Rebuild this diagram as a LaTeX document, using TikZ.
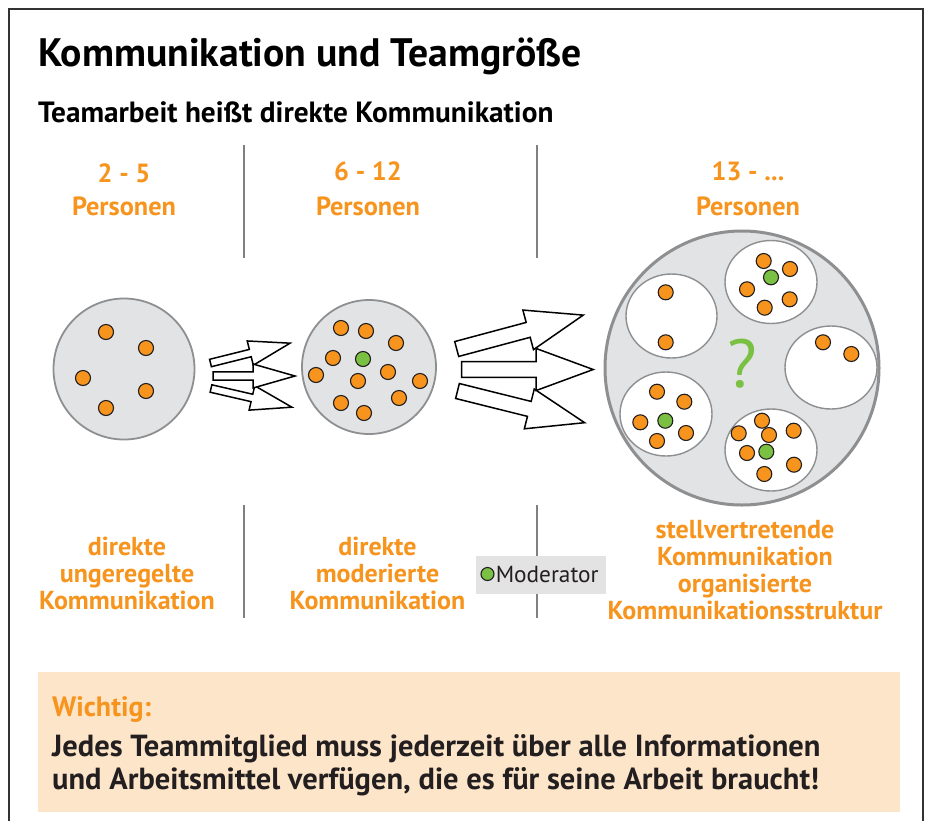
\documentclass[tikz,border=0pt]{standalone}
\usepackage{fontspec}
\setmainfont{PT Sans}
\usetikzlibrary{shapes.geometric, positioning}

\definecolor{teamorange}{HTML}{F7941D}
\definecolor{modgreen}{HTML}{7AC143}
\definecolor{groupfill}{HTML}{E2E3E5}
\definecolor{groupline}{HTML}{8E8F91}
\definecolor{sepgray}{HTML}{808080}
\definecolor{notefill}{HTML}{FDE5C9}
\definecolor{keyfill}{HTML}{E3E3E3}
\definecolor{inkdark}{HTML}{231F20}

% hollow block arrow: length / half shaft / half head / head length
\tikzset{
  pics/blockarrow/.style args={#1/#2/#3/#4}{code={
    \draw[arrowline] (0,-#2) -- ({#1-#4},-#2) -- ({#1-#4},-#3) -- (#1,0)
      -- ({#1-#4},#3) -- ({#1-#4},#2) -- (0,#2) -- cycle;
  }}
}

\begin{document}
\begin{tikzpicture}[
    x=1pt, y=-1pt,
    arrowline/.style={draw=black, fill=white, line width=1.5pt, line join=miter},
    group/.style={circle, draw=groupline, fill=groupfill, line width=1.8pt, inner sep=0pt},
    subgroup/.style={ellipse, draw=groupline, fill=white, line width=1.4pt, inner sep=0pt},
    member/.style={circle, draw=inkdark, fill=teamorange, line width=1.1pt, minimum size=15pt, inner sep=0pt},
    moderator/.style={member, fill=modgreen},
    separator/.style={draw=sepgray, line width=2.5pt},
    headtext/.style={text=teamorange, font=\bfseries\fontsize{26.3}{28}\selectfont, anchor=base, inner sep=0pt},
    modetext/.style={text=teamorange, font=\bfseries\fontsize{26}{27}\selectfont, align=center, anchor=north, inner sep=0pt},
    notetext/.style={anchor=base west, inner sep=0pt, text=inkdark, font=\bfseries\fontsize{30.5}{33}\selectfont}
  ]
  \useasboundingbox (0,0) rectangle (927,820);
  \fill[white] (0,0) rectangle (927,820);
  \draw[line width=2.2pt, draw=black!80] (9,9) rectangle (923,840);

  % headings
  \node[anchor=base west, inner sep=0pt, font=\bfseries\fontsize{39.7}{42}\selectfont] (title) at (38,66) {Kommunikation und Teamgröße};
  \node[anchor=base west, inner sep=0pt, font=\bfseries\fontsize{29.3}{31}\selectfont] (subtitle) at (38,122) {Teamarbeit heißt direkte Kommunikation};

  % column separators
  \draw[separator] (244,145) -- (244,258);
  \draw[separator] (537,145) -- (537,258);
  \draw[separator] (244,505) -- (244,618);
  \draw[separator] (537,505) -- (537,618);

  % team sizes
  \node[headtext] (range1) at (124,182) {2 - 5};
  \node[headtext] (pers1) at (124,215) {Personen};
  \node[headtext] (range2) at (368,180) {6 - 12};
  \node[headtext] (pers2) at (368,215) {Personen};
  \node[headtext] (range3) at (748,180) {13 - ...};
  \node[headtext] (pers3) at (748,215) {Personen};

  % small team
  \node[group, minimum size=141pt] (small) at (124,369) {};
  \foreach \p [count=\i] in {(106,332),(146,348),(83,378),(146,391),(106,408)}
    \node[member] (s\i) at \p {};

  % medium team
  \node[group, minimum size=134pt] (medium) at (369,367) {};
  \foreach \p [count=\i] in {(341,328),(366,331),(396,343),(333,358),(316,375),(388,372),
                             (358,381),(420,381),(341,403),(399,398),(364,413)}
    \node[member] (m\i) at \p {};
  \node[moderator] (mmod) at (363,359) {};

  % large team with sub-teams
  \node[group, minimum size=274pt, line width=3pt] (large) at (742,368) {};
  \node[subgroup, minimum width=91pt, minimum height=84pt] (sub1) at (671.5,316) {};
  \node[subgroup, minimum width=92pt, minimum height=83pt] (sub2) at (771,282) {};
  \node[subgroup, minimum width=92pt, minimum height=83pt] (sub3) at (831,367.5) {};
  \node[subgroup, minimum width=92pt, minimum height=84pt] (sub4) at (666,414) {};
  \node[subgroup, minimum width=92pt, minimum height=82pt] (sub5) at (771,450) {};
  \foreach \p [count=\i] in {(665.7,292.3),(665.7,342.3),
                             (763.7,261),(790,269),(747,289.3),(789.7,299.3),(764.7,307.7),
                             (823,342.3),(851.3,354),
                             (657,391.7),(684.3,401.7),(640.3,422.3),(686,433),(657,441),
                             (762,420.7),(738.7,433.3),(769,435),(793.7,430.7),(747,453),
                             (794,464.7),(764.3,474)}
    \node[member] (l\i) at \p {};
  \node[moderator] (lmod2) at (771,277.3) {};
  \node[moderator] (lmod4) at (665.3,420.7) {};
  \node[moderator] (lmod5) at (766.3,451.7) {};
  \node[text=modgreen, font=\fontsize{68}{70}\selectfont, inner sep=0pt] (unknown) at (742,364) {?};

  % growth arrows
  \pic[rotate=14] at (210.5,363) {blockarrow=82/3.8/12.5/41};
  \pic[rotate=-13] at (211,388.5) {blockarrow=83/3.8/12.5/41};
  \pic at (213,376) {blockarrow=82/4.2/12/42};
  \pic[rotate=15] at (456.7,349) {blockarrow=131/7.7/20.5/57};
  \pic[rotate=-14] at (457.5,391) {blockarrow=131/7.7/20.5/57};
  \pic at (461.7,369.5) {blockarrow=131.5/7.8/21/57};

  % kind of communication
  \node[modetext] (mode1) at (127,537) {direkte\\ungeregelte\\Kommunikation};
  \node[modetext] (mode2) at (377.5,537) {direkte\\moderierte\\Kommunikation};
  \node[modetext] (mode3) at (745,520.5) {stellvertretende\\Kommunikation\\organisierte\\Kommunikationsstruktur};

  % legend
  \node[fill=keyfill, minimum width=130pt, minimum height=38pt, inner sep=0pt] (legend) at (541,575) {};
  \node[moderator, minimum size=13pt] (legdot) at (487.5,574) {};
  \node[right=1pt of legdot, inner sep=0pt, text=inkdark, font=\fontsize{23.3}{25}\selectfont] (legtext) {Moderator};

  % note box
  \node[fill=notefill, minimum width=862pt, minimum height=140pt, inner sep=0pt] (note) at (469,742) {};
  \node[notetext, text=teamorange, font=\bfseries\fontsize{28}{31}\selectfont] (notehead) at (52,716) {Wichtig:};
  \node[notetext] (noteline1) at (52,756) {Jedes Teammitglied muss jederzeit über alle Informationen};
  \node[notetext] (noteline2) at (52,789) {und Arbeitsmittel verfügen, die es für seine Arbeit braucht!};
\end{tikzpicture}
\end{document}
